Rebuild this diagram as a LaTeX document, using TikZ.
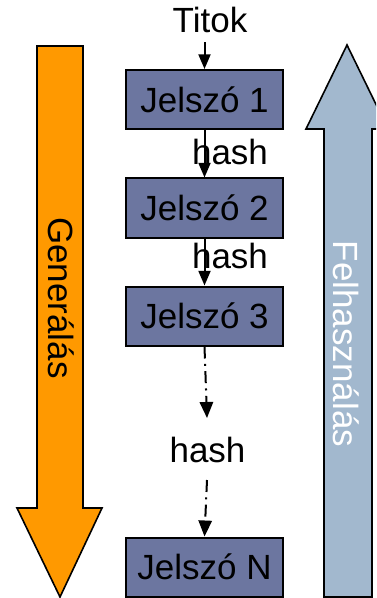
\documentclass[tikz,border=0pt]{standalone}
\usepackage{fontspec}
\setmainfont{Liberation Sans}
\usetikzlibrary{arrows.meta}
\definecolor{genorange}{RGB}{255,153,0}
\definecolor{useblue}{RGB}{162,184,206}
\definecolor{pwbox}{RGB}{108,118,160}
\tikzset{
  pwnode/.style={draw=black, line width=1.5pt, fill=pwbox, minimum width=117.75pt,
    minimum height=44.25pt, inner sep=0pt, font=\fontsize{26.25}{30}\selectfont},
  lbl/.style={inner sep=0pt, font=\fontsize{26.25}{30}\selectfont},
  flow/.style={line width=1.5pt, -{Triangle[length=11pt,width=9pt]}},
  dflow/.style={line width=1.5pt, dash pattern=on 9pt off 4pt on 1.5pt off 4pt,
    -{Triangle[length=12pt,width=10pt]}},
  bigarrow/.style={draw=black, line width=1.2pt, line join=miter}
}
\begin{document}
\begin{tikzpicture}[x=0.75pt, y=-0.75pt]
  \useasboundingbox (0,0) rectangle (376,598);
  \clip (0,0) rectangle (376,598);
  \fill[white] (0,0) rectangle (376,598);

  % generation direction (top to bottom)
  \draw[bigarrow, fill=genorange]
    (37,46) -- (83,46) -- (83,508) -- (102,508) -- (60,597) -- (17,508) -- (37,508) -- cycle;
  \node[lbl, rotate=-90] (gen) at (61,298) {Generálás};

  % usage direction (bottom to top)
  \draw[bigarrow, fill=useblue]
    (347,45) -- (388,129) -- (372,129) -- (372,597) -- (324,597) -- (324,129) -- (306,129) -- cycle;
  \node[lbl, rotate=-90, text=white] (use) at (346,344) {Felhasználás};

  % password chain
  \node[lbl, anchor=base] (secret) at (210,33) {Titok};
  \node[pwnode] (p1) at (204.5,99.5) {Jelszó 1};
  \node[pwnode] (p2) at (204.5,208) {Jelszó 2};
  \node[pwnode] (p3) at (204.5,316) {Jelszó 3};
  \node[pwnode] (pn) at (204.5,567) {Jelszó N};

  \node[lbl, anchor=base] (h1) at (230,165) {hash};
  \node[lbl, anchor=base] (h2) at (230,268) {hash};
  \node[lbl, anchor=base] (h3) at (207.5,462) {hash};

  \coordinate (d1) at (207,418);
  \coordinate (d2) at (207,480);

  \draw[flow, shorten <=6.5pt] (secret.south -| p1.north) -- (p1.north);
  \draw[flow] (p1.south) -- (p2.north);
  \draw[flow] (p2.south) -- (p3.north);
  \draw[dflow] (p3.south) -- (d1);
  \draw[dflow] (d2) -- (pn.north);
\end{tikzpicture}
\end{document}
